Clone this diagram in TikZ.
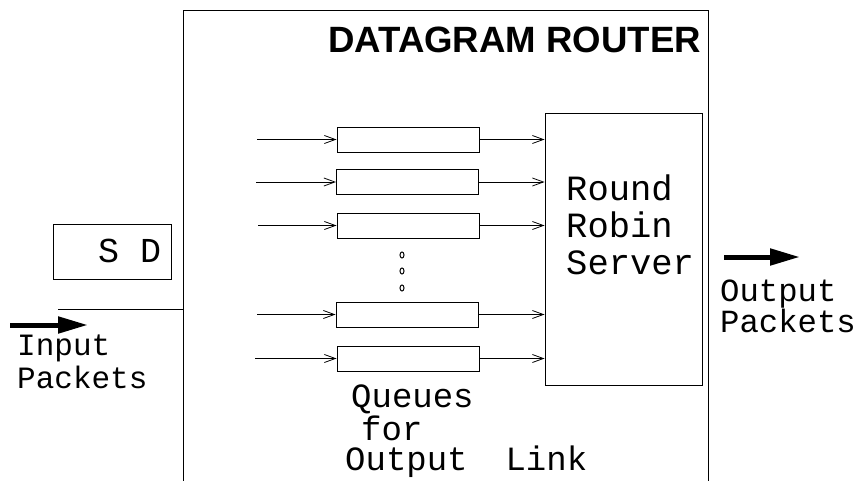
\documentclass[tikz,border=0pt]{standalone}
\usepackage{fontspec}
\setmainfont{Liberation Sans}
\newfontfamily\cour{Liberation Mono}
\usetikzlibrary{arrows.meta,shapes.geometric}
\begin{document}
\begin{tikzpicture}[x=1pt,y=-1pt,
  thin line/.style={line width=0.9pt},
  queuebox/.style={draw, thin line, minimum width=142pt, minimum height=25pt, inner sep=0pt},
  serverbox/.style={draw, thin line, minimum width=157pt, minimum height=272pt, inner sep=0pt},
  sdbox/.style={draw, thin line, minimum width=118pt, minimum height=55pt, inner sep=0pt},
  inarrow/.style={thin line, -{Straight Barb[length=11pt,width=8pt,line width=0.8pt]}},
  bigarrow/.style={line width=5pt, -{Triangle[length=30pt,width=16pt]}},
  txt/.style={inner sep=0pt, anchor=base west},
  mono/.style={txt, font=\cour\fontsize{#1}{#1}\selectfont},
  dot/.style={draw, line width=1pt, ellipse, minimum width=4pt, minimum height=6pt, inner sep=0pt}
]
\useasboundingbox (0,0) rectangle (859,481);

% router outline (open at the bottom)
\draw[thin line] (183,481) -- (183,10) -- (708,10) -- (708,481);
\node[txt, font=\bfseries\fontsize{36.6}{36.6}\selectfont] (title) at (328,53) {DATAGRAM ROUTER};

% queues
\node[queuebox] (Q1) at (408,139.5) {};
\node[queuebox] (Q2) at (407.5,182) {};
\node[queuebox] (Q3) at (408,225.5) {};
\node[queuebox] (Q4) at (407,314.5) {};
\node[queuebox] (Q5) at (408,358.5) {};

% server
\node[serverbox] (S) at (623.5,249) {};
\node[txt, align=left, font=\cour\fontsize{35.5}{37}\selectfont] (rs) at (566,274) {Round\\Robin\\Server};

% input arrow start points
\coordinate (i1) at (257,139.5);
\coordinate (i2) at (256,182);
\coordinate (i3) at (258,225.5);
\coordinate (i4) at (257,314.5);
\coordinate (i5) at (255,358.5);
\foreach \k in {1,...,5}{
  \draw[inarrow] (i\k) -- (Q\k.west);
  \draw[inarrow] (Q\k.east) -- (S.west |- Q\k.east);
}

% vertical dots
\node[dot] (d1) at (402,255) {};
\node[dot] (d2) at (402,271) {};
\node[dot] (d3) at (402,288) {};

% queue label
\node[txt, align=left, font=\cour\fontsize{34}{30}\selectfont] (ql) at (345,470)
  {\hspace{6pt}Queues\\\hspace{16pt}for\\Output\hspace{38pt}Link};

% S D packet header
\node[sdbox] (SD) at (112,251.5) {};
\node[mono=35] (sdt) at (98,262) {S D};

% input line into router
\coordinate (inl) at (58,309);
\coordinate (rl) at (183,309);
\draw[thin line] (inl) -- (rl);

% input packets
\coordinate (ia1) at (10,325);
\coordinate (ia2) at (88,325);
\draw[bigarrow] (ia1) -- (ia2);
\node[txt, align=left, font=\cour\fontsize{31}{33}\selectfont] (ip) at (17,388) {Input\\Packets};

% output packets
\coordinate (oa1) at (724,257);
\coordinate (oa2) at (800,257);
\draw[bigarrow] (oa1) -- (oa2);
\node[txt, align=left, font=\cour\fontsize{32.3}{31}\selectfont] (op) at (720,332) {Output\\Packets};
\end{tikzpicture}
\end{document}
